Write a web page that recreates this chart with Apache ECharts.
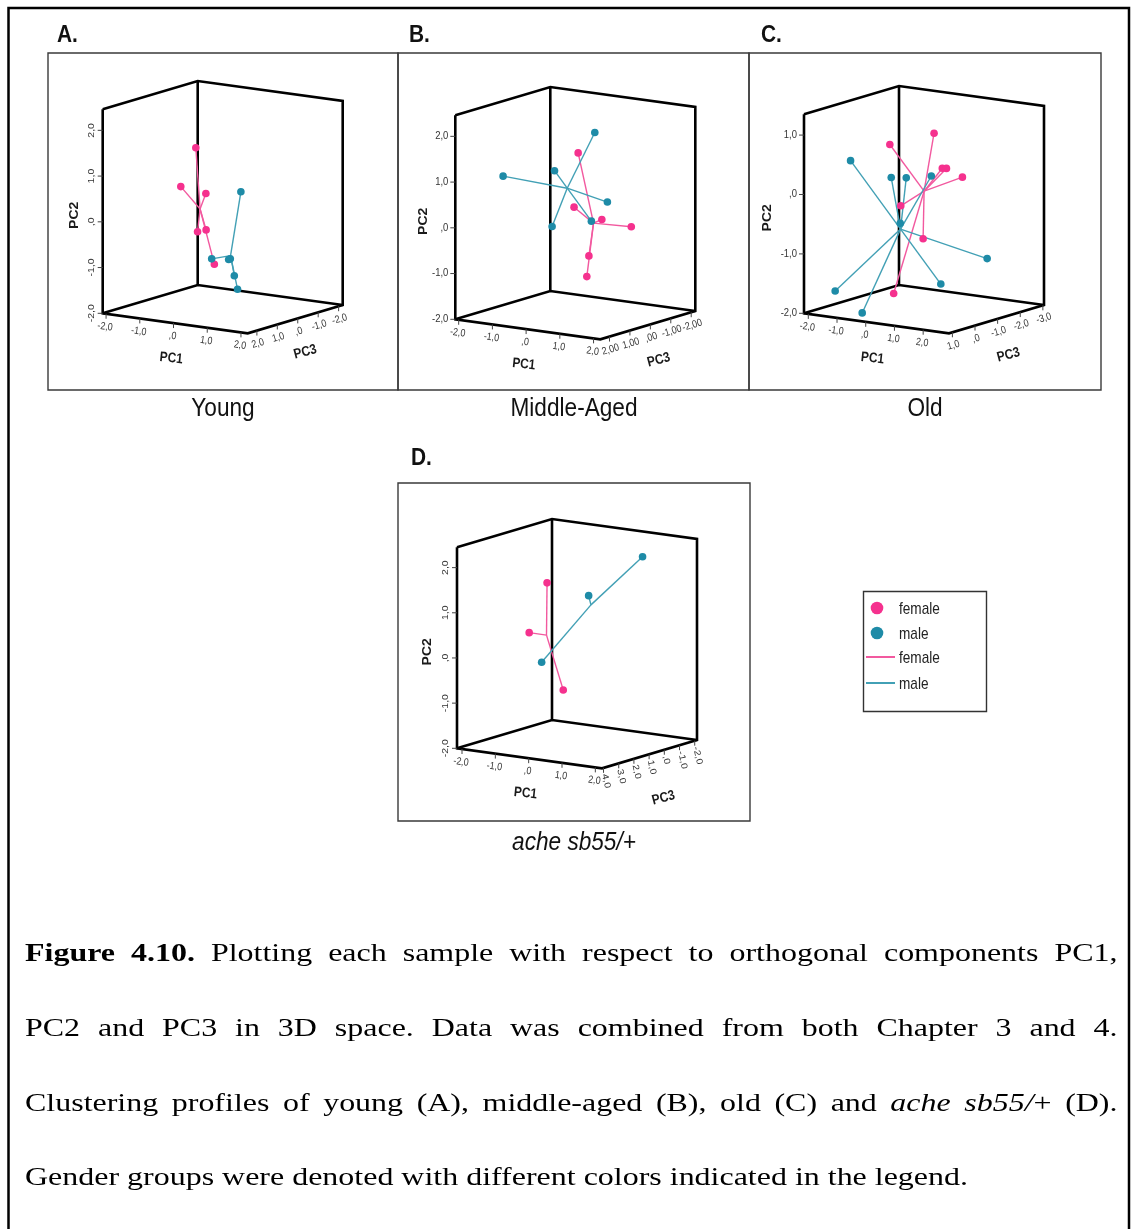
<!DOCTYPE html>
<html><head><meta charset="utf-8">
<script src="https://cdn.jsdelivr.net/npm/echarts@6/dist/echarts.min.js"></script>
<style>html,body{margin:0;padding:0;background:#fff}#c{width:1132px;height:1229px}</style>
</head><body><div id="c"></div>
<script>
// ---------------- DATA ([PC1, PC2, PC3]) ----------------
const youngFemale = [[-0.52,1.52,0.5],[-1.45,0.47,-0.3],[-0.04,0.61,0.8],[-0.65,-0.37,0.2],[-0.76,-0.42,-0.4],[0.09,-0.95,0.6]];
const youngMale   = [[0.15,0.48,-0.6],[-0.11,-0.88,0.4],[0.03,-0.96,-0.2],[0.26,-0.88,0.1],[0.50,-1.20,0.3],[0.96,-1.37,0.9]];
const middleFemale = [[0.18,1.57,0.2],[0.24,0.43,0.5],[0.58,0.09,-0.3],[1.15,-0.08,-0.8],[0.62,-0.61,0.4],[0.74,-1.01,0.7]];
const middleMale   = [[0.25,1.93,-0.5],[-1.44,1.03,1.2],[-0.46,1.13,0.3],[0.32,0.35,-1.0],[0.33,0.04,-0.2],[-0.35,-0.04,0.6]];
const oldFemale = [[1.08,1.06,-0.5],[0.17,0.90,0.3],[1.13,0.44,-0.8],[0.96,0.38,-1.2],[1.28,0.22,-1.5],[0.63,-0.09,0.4],[0.62,-0.76,-0.6],[0.54,-1.55,0.6]];
const oldMale   = [[-1.04,0.57,0.5],[0.14,0.33,0.2],[0.19,0.26,-0.4],[0.59,0.25,-1.0],[0.06,-0.50,-0.3],[1.59,-1.21,-2.2],[1.00,-1.53,-0.9],[-1.34,-1.61,0.8],[-0.32,-1.90,0.9]];
const acheFemale = [[-1.09,1.41,0.5],[-1.17,0.40,1.5],[-1.06,-1.06,-0.5]];
const acheMale   = [[-0.34,-0.07,2.5],[-0.07,1.18,0.0],[1.00,2.03,-1.2]];

// axis ranges
const youngPC1Range = [-2.1, 2.2], youngPC2Range = [-2, 2.46], youngPC3Range = [-2.2, 2.45];
const middlePC1Range = [-2.1, 2.2], middlePC2Range = [-2, 2.46], middlePC3Range = [-2.2, 2.45];
const oldPC1Range = [-2.15, 2.9], oldPC2Range = [-2, 1.35], oldPC3Range = [-3.05, 1.15];
const achePC1Range = [-2.15, 2.2], achePC2Range = [-2, 2.45], achePC3Range = [-2.15, 4.1];

// ticks
const pc1Ticks = [-2, -1, 0, 1, 2];
const pc1TickLabels = ['-2,0', '-1,0', ',0', '1,0', '2,0'];
const pc2Ticks = [-2, -1, 0, 1, 2];
const pc2TickLabels = ['-2,0', '-1,0', ',0', '1,0', '2,0'];
const oldPC2Ticks = [-2, -1, 0, 1];
const oldPC2TickLabels = ['-2,0', '-1,0', ',0', '1,0'];
const oldPC1Ticks = [-2, -1, 0, 1, 2];
const pc3Ticks = [2, 1, 0, -1, -2];
const youngPC3TickLabels = ['2,0', '1,0', ',0', '-1,0', '-2,0'];
const middlePC3TickLabels = ['2,00', '1,00', ',00', '-1,00', '-2,00'];
const oldPC3Ticks = [1, 0, -1, -2, -3];
const oldPC3TickLabels = ['1,0', ',0', '-1,0', '-2,0', '-3,0'];
const achePC3Ticks = [4, 3, 2, 1, 0, -1, -2];
const achePC3TickLabels = ['4,0', '3,0', '2,0', '1,0', ',0', '-1,0', '-2,0'];

const panelTitles = ['Young', 'Middle-Aged', 'Old', 'ache sb55/+'];
const panelLetters = ['A.', 'B.', 'C.', 'D.'];
const legendLabels = ['female', 'male', 'female', 'male'];

const captionLines = [
  '**Figure** **4.10.** Plotting each sample with respect to orthogonal components PC1,',
  'PC2 and PC3 in 3D space. Data was combined from both Chapter 3 and 4.',
  'Clustering profiles of young (A), middle-aged (B), old (C) and _ache_ _sb55/_+ (D).',
  'Gender groups were denoted with different colors indicated in the legend.'
];

// ---------------- STYLE / LAYOUT ----------------
const FEMALE_DOT = '#F5318E', MALE_DOT = '#1E8BA7';
const FEMALE_LINE = '#F2599F', MALE_LINE = '#42A0B5';
const SANS = "'Liberation Sans', Arial, sans-serif";
const SERIF = "'Liberation Serif', 'Times New Roman', serif";
const AVEC = [145, 20], BVEC = [95, -28.3];

const panels = [
  {L:[102.7,313.3], H:204, r1:youngPC1Range, r2:youngPC2Range, r3:youngPC3Range,
   t1:pc1Ticks, l1:pc1TickLabels, t2:pc2Ticks, l2:pc2TickLabels, t3:pc3Ticks, l3:youngPC3TickLabels,
   pc2Rot:true, pc3Vert:false, pc2TitleDx:-28, pc3TitleOff:[10,33], female:youngFemale, male:youngMale},
  {L:[455.3,319.3], H:204, r1:middlePC1Range, r2:middlePC2Range, r3:middlePC3Range,
   t1:pc1Ticks, l1:pc1TickLabels, t2:pc2Ticks, l2:pc2TickLabels, t3:pc3Ticks, l3:middlePC3TickLabels,
   pc2Rot:false, pc3Vert:false, pc2TitleDx:-32, pc3TitleOff:[11,35], female:middleFemale, male:middleMale},
  {L:[804,313.3], H:199, r1:oldPC1Range, r2:oldPC2Range, r3:oldPC3Range,
   t1:oldPC1Ticks, l1:pc1TickLabels, t2:oldPC2Ticks, l2:oldPC2TickLabels, t3:oldPC3Ticks, l3:oldPC3TickLabels,
   pc2Rot:false, pc3Vert:false, pc2TitleDx:-36, pc3TitleOff:[12,36], female:oldFemale, male:oldMale},
  {L:[457,748.3], H:201, r1:achePC1Range, r2:achePC2Range, r3:achePC3Range,
   t1:pc1Ticks, l1:pc1TickLabels, t2:pc2Ticks, l2:pc2TickLabels, t3:achePC3Ticks, l3:achePC3TickLabels,
   pc2Rot:true, pc3Vert:true, pc2TitleDx:-29, pc3TitleOff:[14,44], female:acheFemale, male:acheMale}
];

// oblique projection of a 3D point into page coordinates (then mapped by the cartesian axes)
function project(P, p1, p2, p3) {
  const t1 = (p1 - P.r1[0]) / (P.r1[1] - P.r1[0]);
  const t3 = (P.r3[1] - p3) / (P.r3[1] - P.r3[0]);
  const t2 = (p2 - P.r2[0]) / (P.r2[1] - P.r2[0]);
  return [P.L[0] + t1 * AVEC[0] + t3 * BVEC[0], P.L[1] + t1 * AVEC[1] + t3 * BVEC[1] - t2 * P.H];
}
function centroid(arr) {
  const s = [0, 0, 0];
  arr.forEach(d => { s[0] += d[0]; s[1] += d[1]; s[2] += d[2]; });
  return s.map(v => v / arr.length);
}

function txt(x, y, text, o) {
  return {type:'text', x:x, y:y, rotation:o.rot || 0, scaleX:o.sx || 1, scaleY:o.sy || 1,
    style:{text:text, fill:o.fill || '#333', fontSize:o.fs || 10.5, fontFamily:SANS, fontWeight:o.fw || 'normal',
      align:o.align || 'center', verticalAlign:'middle'}};
}

function boxSeries(P) {
  return {
    type:'custom', coordinateSystem:'cartesian2d', clip:false, silent:true, z:2,
    data:[[0, 0]],
    renderItem(params, api) {
      const c = (a, b, d) => api.coord(project(P, a, b, d));
      const [a0, a1] = P.r1, [b0, b1] = P.r2, [c0, c1] = P.r3;
      const L = c(a0, b0, c1), F = c(a1, b0, c1), R = c(a1, b0, c0), K = c(a0, b0, c0);
      const Lt = c(a0, b1, c1), Rt = c(a1, b1, c0), Kt = c(a0, b1, c0);
      const edge = {stroke:'#000', lineWidth:2.6, fill:'none'};
      const tick = {stroke:'#444', lineWidth:1};
      const kids = [
        {type:'polyline', shape:{points:[Lt, L, F, R, Rt, Kt, Lt]}, style:edge},
        {type:'polyline', shape:{points:[L, K, R]}, style:edge},
        {type:'line', shape:{x1:K[0], y1:K[1], x2:Kt[0], y2:Kt[1]}, style:edge}
      ];
      P.t1.forEach((v, i) => {
        const p = c(v, b0, c1);
        kids.push({type:'line', shape:{x1:p[0], y1:p[1], x2:p[0], y2:p[1] + 5}, style:tick});
        kids.push(txt(p[0] - 1, p[1] + 13, P.l1[i], {rot:-0.14, sx:0.85}));
      });
      P.t3.forEach((v, i) => {
        const p = c(a1, b0, v);
        kids.push({type:'line', shape:{x1:p[0], y1:p[1], x2:p[0], y2:p[1] + 5}, style:tick});
        if (P.pc3Vert) kids.push(txt(p[0] + 1, p[1] + 6, P.l3[i], {rot:-1.35, sy:0.85, align:'left'}));
        else kids.push(txt(p[0] + 1, p[1] + 13, P.l3[i], {rot:0.29, sx:0.85}));
      });
      P.t2.forEach((v, i) => {
        const p = c(a0, v, c1);
        kids.push({type:'line', shape:{x1:p[0] - 5, y1:p[1], x2:p[0], y2:p[1]}, style:tick});
        if (P.pc2Rot) kids.push(txt(p[0] - 11, p[1], P.l2[i], {rot:Math.PI / 2, sy:0.85}));
        else kids.push(txt(p[0] - 7, p[1], P.l2[i], {align:'right', sx:0.9}));
      });
      const t = {fs:14, fw:'bold', fill:'#1a1a1a'};
      kids.push(txt((L[0] + F[0]) / 2 - 4, (L[1] + F[1]) / 2 + 35, 'PC1', Object.assign({rot:-0.1, sx:0.85}, t)));
      kids.push(txt((F[0] + R[0]) / 2 + P.pc3TitleOff[0], (F[1] + R[1]) / 2 + P.pc3TitleOff[1], 'PC3', Object.assign({rot:0.26, sx:0.85}, t)));
      kids.push(txt(L[0] + P.pc2TitleDx, (L[1] + Lt[1]) / 2 + 4, 'PC2', Object.assign({rot:Math.PI / 2, sy:0.85}, t)));
      return {type:'group', children:kids};
    }
  };
}

function rowsOf(P) {
  return P.female.map(d => [d[0], d[1], d[2], 0]).concat(P.male.map(d => [d[0], d[1], d[2], 1]));
}
function spikeSeries(P) {
  const cents = [centroid(P.female), centroid(P.male)];
  return {
    type:'custom', coordinateSystem:'cartesian2d', clip:false, silent:true, z:3,
    data:rowsOf(P),
    renderItem(params, api) {
      const g = api.value(3), ce = cents[g];
      const p = api.coord(project(P, api.value(0), api.value(1), api.value(2)));
      const q = api.coord(project(P, ce[0], ce[1], ce[2]));
      return {type:'line', shape:{x1:p[0], y1:p[1], x2:q[0], y2:q[1]},
        style:{stroke:g ? MALE_LINE : FEMALE_LINE, lineWidth:1.4}};
    }
  };
}
function pointSeries(P) {
  return {
    type:'custom', coordinateSystem:'cartesian2d', clip:false, silent:true, z:4,
    data:rowsOf(P),
    renderItem(params, api) {
      const p = api.coord(project(P, api.value(0), api.value(1), api.value(2)));
      return {type:'circle', shape:{cx:p[0], cy:p[1], r:3.8},
        style:{fill:api.value(3) ? MALE_DOT : FEMALE_DOT}};
    }
  };
}

// ---------------- GRAPHIC (frames, titles, legend, caption) ----------------
const graphics = [];
graphics.push({type:'rect', shape:{x:8.5, y:8, width:1120.5, height:1240}, style:{fill:'none', stroke:'#000', lineWidth:2.5}});
const frames = [[48, 53, 350, 337], [398, 53, 351, 337], [749, 53, 352, 337], [398, 483, 352, 338]];
frames.forEach(f => graphics.push({type:'rect', shape:{x:f[0], y:f[1], width:f[2], height:f[3]}, style:{fill:'none', stroke:'#3a3a3a', lineWidth:1.4}}));
const letterPos = [[57, 35], [409, 35], [761, 35], [411, 458]];
panelLetters.forEach((t, i) => graphics.push({type:'text', x:letterPos[i][0], y:letterPos[i][1], scaleX:0.87,
  style:{text:t, font:"bold 24px " + SANS, fill:'#111', align:'left', textAlign:'left', verticalAlign:'middle', textVerticalAlign:'middle'}}));
const titlePos = [[223, 409], [574, 409], [925, 409], [574, 843]];
panelTitles.forEach((t, i) => graphics.push({type:'text', x:titlePos[i][0], y:titlePos[i][1], scaleX:0.87,
  style:{text:t, font:(i === 3 ? 'italic ' : '') + "26px " + SANS, fill:'#111', align:'center', textAlign:'center', verticalAlign:'middle', textVerticalAlign:'middle'}}));
// legend
graphics.push({type:'rect', shape:{x:863.5, y:591.5, width:123, height:120}, style:{fill:'none', stroke:'#333', lineWidth:1.4}});
graphics.push({type:'circle', shape:{cx:877, cy:608, r:6.3}, style:{fill:FEMALE_DOT}});
graphics.push({type:'circle', shape:{cx:877, cy:633, r:6.3}, style:{fill:MALE_DOT}});
graphics.push({type:'line', shape:{x1:866, y1:657, x2:895, y2:657}, style:{stroke:FEMALE_LINE, lineWidth:2}});
graphics.push({type:'line', shape:{x1:866, y1:683, x2:895, y2:683}, style:{stroke:MALE_LINE, lineWidth:2}});
const legY = [609, 634, 658, 684];
legendLabels.forEach((t, i) => graphics.push({type:'text', x:899, y:legY[i], scaleX:0.8,
  style:{text:t, font:"17px " + SANS, fill:'#222', align:'left', textAlign:'left', verticalAlign:'middle', textVerticalAlign:'middle'}}));

// caption (justified)
const FS = 26;
const fontOf = k => (k === 'b' ? 'bold ' : k === 'i' ? 'italic ' : '') + FS + 'px ' + SERIF;
const mctx = document.createElement('canvas').getContext('2d');
const measure = (t, k) => { mctx.font = fontOf(k); return mctx.measureText(t).width; };
function parseWord(w) {
  const segs = [];
  const re = /\*\*([^*]+)\*\*|_([^_]+)_|([^*_]+)/g;
  let m;
  while ((m = re.exec(w))) {
    if (m[1]) segs.push([m[1], 'b']); else if (m[2]) segs.push([m[2], 'i']); else segs.push([m[3], 'r']);
  }
  return segs;
}
const parsed = captionLines.map(l => l.split(' ').map(parseWord));
const wordW = segs => segs.reduce((s, g) => s + measure(g[0], g[1]), 0);
const spaceW = measure(' ', 'r');
const last = parsed[3];
const natural = last.reduce((s, w) => s + wordW(w), 0) + spaceW * (last.length - 1);
const SX = 943 / natural;
const LEFT = 25, RIGHT = 1117.5;
const baselines = [963, 1038, 1113, 1187];
parsed.forEach((words, li) => {
  const sum = words.reduce((s, w) => s + wordW(w) * SX, 0);
  const gap = li < 3 ? (RIGHT - LEFT - sum) / (words.length - 1) : spaceW * SX;
  let x = LEFT;
  words.forEach(w => {
    w.forEach(g => {
      graphics.push({type:'text', x:x, y:baselines[li] - 0.34 * FS, scaleX:SX,
        style:{text:g[0], font:fontOf(g[1]), fill:'#000', align:'left', textAlign:'left', verticalAlign:'middle', textVerticalAlign:'middle'}});
      x += measure(g[0], g[1]) * SX;
    });
    x += gap;
  });
});

// ---------------- CHART ----------------
const series = [];
panels.forEach(P => { series.push(boxSeries(P), spikeSeries(P), pointSeries(P)); });

const chart = echarts.init(document.getElementById('c'), null, {renderer:'canvas'});
chart.setOption({
  animation:false,
  backgroundColor:'#fff',
  grid:{left:0, top:0, width:1132, height:1229, containLabel:false},
  xAxis:{type:'value', min:0, max:1132, show:false},
  yAxis:{type:'value', min:0, max:1229, inverse:true, show:false},
  series:series,
  graphic:graphics
});
</script></body></html>
